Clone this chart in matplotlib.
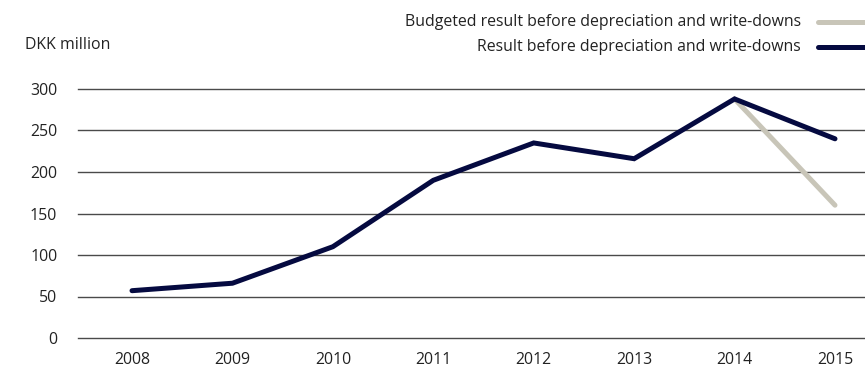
import matplotlib.pyplot as plt
from matplotlib.lines import Line2D

plt.rcParams['font.family'] = ['Open Sans', 'DejaVu Sans']

# Data (DKK million)
years = [2008, 2009, 2010, 2011, 2012, 2013, 2014, 2015]
result = [57, 66, 110, 190, 235, 216, 288, 240]
budget_years = [2014, 2015]
budget = [288, 160]
yticks = [0, 50, 100, 150, 200, 250, 300]

NAVY = '#050a40'
BEIGE = '#c8c5b8'
TEXT = '#222222'
FS = 11.4
W, H = 865, 373

fig = plt.figure(figsize=(W / 100, H / 100), dpi=100)
ax = fig.add_axes([78 / W, (H - 338) / H, 1 - 78 / W, (338 - 89) / H])

ax.plot(budget_years, budget, color=BEIGE, lw=3.6, solid_capstyle='round', clip_on=False, zorder=3)
ax.plot(years, result, color=NAVY, lw=3.6, solid_capstyle='round',
        solid_joinstyle='miter', clip_on=False, zorder=4)

ax.set_xlim(2008 - 54 / 100.4, 2015 + 30 / 100.4)
ax.set_ylim(0, 300)
ax.set_yticks(yticks)
ax.set_xticks(years)
for y in yticks:
    ax.axhline(y, color='#4a4a4a', lw=1.0, zorder=1, clip_on=False)

for s in ax.spines.values():
    s.set_visible(False)
ax.tick_params(length=0, labelsize=FS, colors=TEXT)
ax.tick_params(axis='y', pad=15)
ax.tick_params(axis='x', pad=10)

fig.text(25 / W, 1 - 45 / H, 'DKK million', fontsize=FS, color=TEXT, va='center')

# legend drawn by hand at the top right
legend_items = [('Budgeted result before depreciation and write-downs', BEIGE, 22),
                ('Result before depreciation and write-downs', NAVY, 47)]
for label, color, ypx in legend_items:
    yf = 1 - ypx / H
    fig.text(801 / W, yf, label, fontsize=FS, color=TEXT, ha='right', va='center')
    fig.add_artist(Line2D([818 / W, 870 / W], [yf, yf], color=color, lw=3.6,
                          solid_capstyle='round', transform=fig.transFigure))

fig.savefig('out.png', dpi=100)
